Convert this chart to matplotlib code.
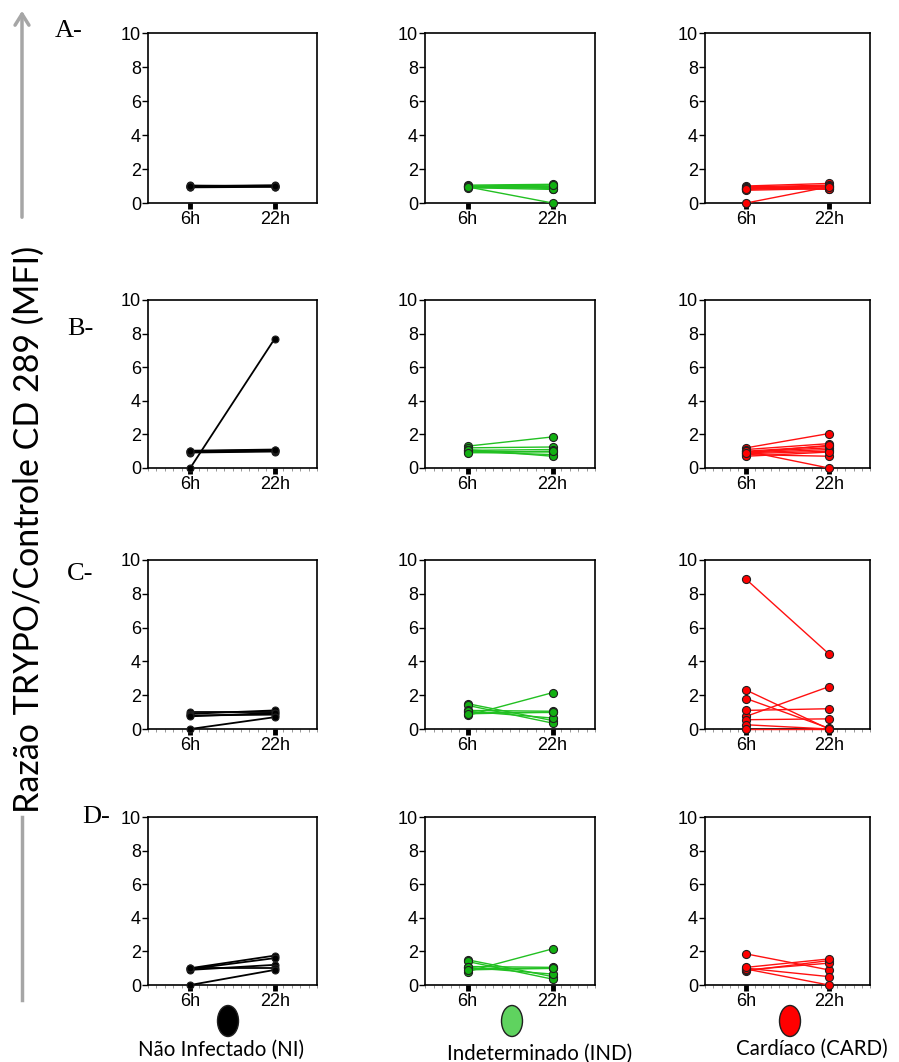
import matplotlib
matplotlib.use("Agg")
import matplotlib.pyplot as plt
import matplotlib.patches as patches

# pontos de tempo
tempos = ["6h", "22h"]
grupos = ["Não Infectado (NI)", "Indeterminado (IND)", "Cardíaco (CARD)"]
linhas = ["A-", "B-", "C-", "D-"]

# A - razao por individuo (6h, 22h)
A_NI_6h = [0.92, 0.96, 1.0, 1.03, 0.98]
A_NI_22h = [0.95, 1.0, 1.04, 0.97, 1.02]
A_IND_6h = [1.05, 1.0, 0.95, 1.0, 0.9, 1.0, 0.95]
A_IND_22h = [1.1, 1.0, 0.95, 0.85, 0.8, 1.05, 0.0]
A_CARD_6h = [1.0, 0.95, 0.9, 0.85, 0.8, 0.75, 0.9, 0.85, 0.0]
A_CARD_22h = [1.15, 1.05, 1.0, 0.95, 0.9, 0.85, 0.8, 1.0, 0.95]

# B
B_NI_6h = [0.92, 1.0, 0.96, 1.03, 0.0]
B_NI_22h = [0.98, 1.06, 1.02, 1.1, 7.7]
B_IND_6h = [1.3, 1.2, 1.05, 1.0, 0.95, 1.1, 0.9]
B_IND_22h = [1.85, 1.25, 1.1, 0.95, 0.8, 0.7, 1.0]
B_CARD_6h = [1.2, 1.1, 1.0, 0.95, 0.9, 0.85, 0.8, 0.7, 1.0, 0.9]
B_CARD_22h = [2.05, 1.45, 1.3, 1.2, 1.1, 1.0, 0.7, 0.95, 0.0, 1.35]

# C
C_NI_6h = [1.0, 0.9, 0.8, 0.75, 0.0]
C_NI_22h = [1.0, 1.1, 0.85, 0.95, 0.7]
C_IND_6h = [0.8, 1.5, 1.4, 1.1, 1.0, 1.05, 0.9]
C_IND_22h = [2.15, 0.5, 0.35, 1.05, 1.0, 0.65, 1.0]
C_CARD_6h = [8.85, 2.3, 1.8, 0.75, 1.1, 0.55, 0.25, 0.0]
C_CARD_22h = [4.45, 0.0, 0.05, 2.5, 1.2, 0.6, 0.0, 0.0]

# D
D_NI_6h = [1.0, 0.95, 0.9, 1.0, 0.0]
D_NI_22h = [1.75, 1.6, 1.2, 1.0, 0.9]
D_IND_6h = [0.8, 1.5, 1.4, 1.1, 1.0, 1.05, 0.9]
D_IND_22h = [2.15, 0.5, 0.35, 1.05, 1.0, 0.65, 1.0]
D_CARD_6h = [1.85, 0.85, 0.9, 1.0, 0.95, 1.05]
D_CARD_22h = [0.9, 1.45, 1.3, 0.5, 0.0, 1.55]

dados = [
    [(A_NI_6h, A_NI_22h), (A_IND_6h, A_IND_22h), (A_CARD_6h, A_CARD_22h)],
    [(B_NI_6h, B_NI_22h), (B_IND_6h, B_IND_22h), (B_CARD_6h, B_CARD_22h)],
    [(C_NI_6h, C_NI_22h), (C_IND_6h, C_IND_22h), (C_CARD_6h, C_CARD_22h)],
    [(D_NI_6h, D_NI_22h), (D_IND_6h, D_IND_22h), (D_CARD_6h, D_CARD_22h)],
]

cor_linha = ["black", "#22c022", "#ff1010"]
cor_ponto = ["black", "#12b012", "#ff0000"]
cor_legenda = ["black", "#5fd35f", "#ff0000"]

W, H = 899, 1062
fig = plt.figure(figsize=(W / 100, H / 100), dpi=100)

# posicoes dos paineis em pixels
col_esq = [148, 425, 705]
col_dir = [317, 595, 870]
lin_topo = [33, 300, 560, 817]
lin_base = [203, 468, 729, 985]
rot_x = [55, 67, 67, 82]
rot_y = [20, 318, 563, 806]

for i in range(4):
    for j in range(3):
        l, r = col_esq[j], col_dir[j]
        t, b = lin_topo[i], lin_base[i]
        ax = fig.add_axes([l / W, 1 - b / H, (r - l) / W, (b - t) / H])
        y6, y22 = dados[i][j]
        for a, c in zip(y6, y22):
            ax.plot([0, 1], [a, c], color=cor_linha[j],
                    lw=1.3 if j == 0 else 1.0,
                    marker='o', ms=5 if j == 0 else 5.8,
                    mfc=cor_ponto[j], mec='#202020', mew=0.8,
                    clip_on=False, zorder=3)
        ax.set_xlim(-0.5, 1.5)
        ax.set_ylim(0, 10)
        ax.set_yticks([0, 2, 4, 6, 8, 10])
        ax.set_xticks([0, 1])
        ax.set_xticklabels(tempos)
        ax.tick_params(axis='y', direction='out', length=4, width=1,
                       labelsize=13, pad=1)
        ax.tick_params(axis='x', direction='out', length=4, width=3.5,
                       labelsize=13, pad=2)
        if i > 0:
            ax.set_xticks([-0.5 + k * 0.1 for k in range(21)], minor=True)
            ax.tick_params(axis='x', which='minor', length=2, width=0.6,
                           color='#888888')
        for s in ax.spines.values():
            s.set_linewidth(1.2)
        for lab in ax.get_xticklabels() + ax.get_yticklabels():
            lab.set_family('Liberation Sans')
    fig.text(rot_x[i] / W, 1 - rot_y[i] / H, linhas[i], ha='left', va='top',
             family='Liberation Serif', fontsize=19)

# titulo do eixo y e seta cinza
fig.text(29 / W, 1 - 529 / H, "Razão TRYPO/Controle CD 289 (MFI)",
         rotation=90, ha='center', va='center', family='Lato', fontsize=24.5)
fig.add_artist(plt.Line2D([22 / W, 22 / W], [1 - 1000 / H, 1 - 817 / H],
                          color='#a6a6a6', lw=2.5))
fig.add_artist(patches.FancyArrowPatch((22 / W, 1 - 220 / H), (22 / W, 1 - 8 / H),
                                       transform=fig.transFigure,
                                       arrowstyle='->,head_length=8,head_width=5',
                                       color='#a6a6a6', lw=2.5))

# legenda
leg_x = [228, 512, 790]
txt_x = [221, 540, 812]
txt_y = [1050, 1054, 1049]
for j in range(3):
    fig.add_artist(patches.Ellipse((leg_x[j] / W, 1 - 1021 / H), 21 / W, 31 / H,
                                   transform=fig.transFigure,
                                   facecolor=cor_legenda[j], edgecolor='#202020',
                                   lw=1))
    fig.text(txt_x[j] / W, 1 - txt_y[j] / H, grupos[j], ha='center', va='center',
             family='Lato', fontsize=14.8)

fig.savefig("out.png", dpi=100)
